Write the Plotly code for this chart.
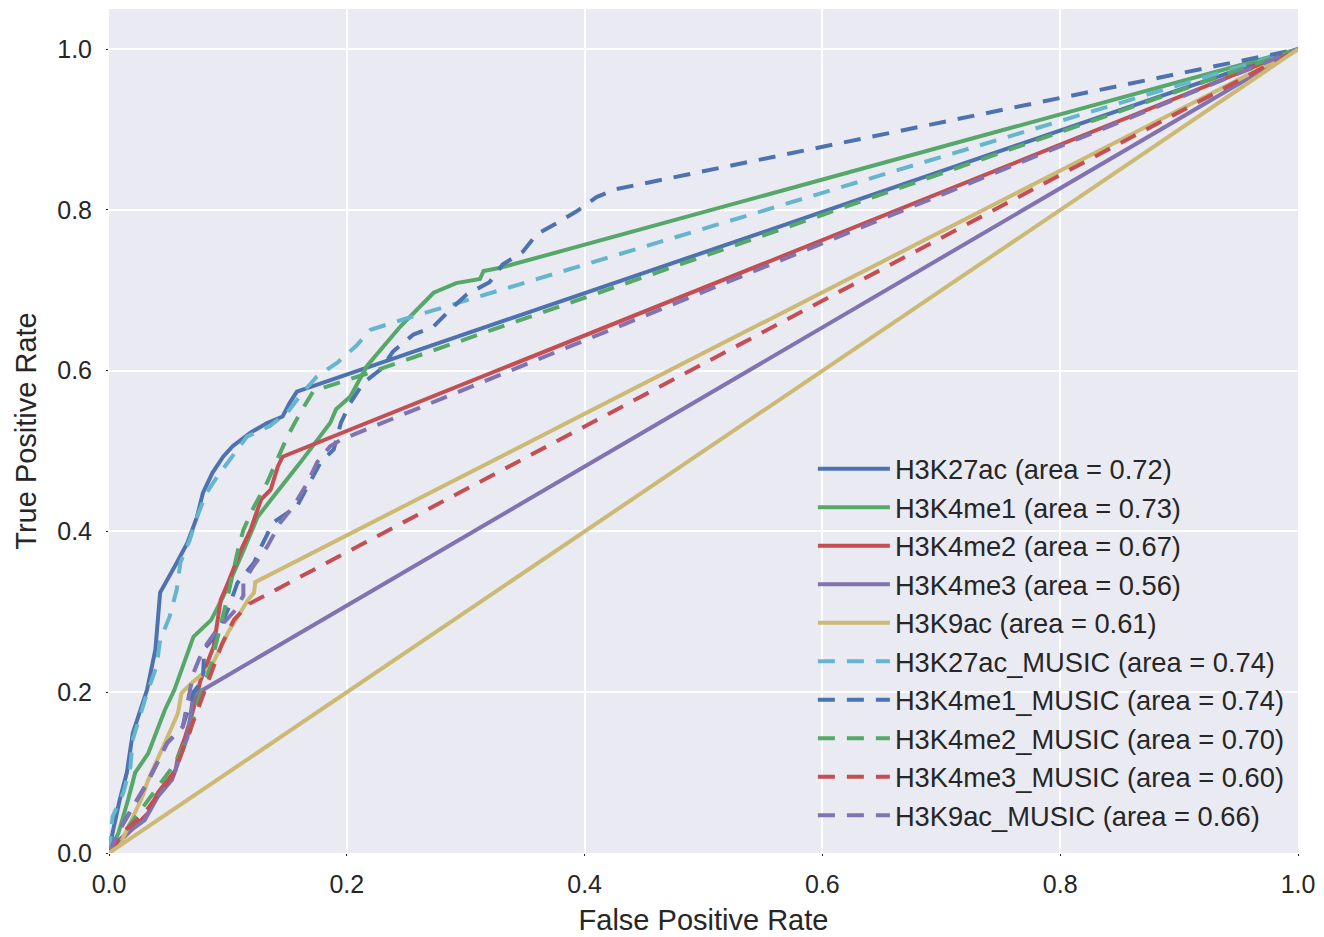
import plotly.graph_objects as go

# ---- data ----
labels = [
    "H3K27ac (area = 0.72)", "H3K4me1 (area = 0.73)", "H3K4me2 (area = 0.67)",
    "H3K4me3 (area = 0.56)", "H3K9ac (area = 0.61)",
    "H3K27ac_MUSIC (area = 0.74)", "H3K4me1_MUSIC (area = 0.74)",
    "H3K4me2_MUSIC (area = 0.70)", "H3K4me3_MUSIC (area = 0.60)",
    "H3K9ac_MUSIC (area = 0.66)",
]

h3k27ac_fpr = [0, 0.003, 0.009, 0.015, 0.02, 0.026, 0.032, 0.039, 0.043, 0.043, 0.057, 0.066, 0.074,
               0.079, 0.087, 0.096, 0.104, 0.119, 0.133, 0.146, 0.152, 0.158, 1]
h3k27ac_tpr = [0, 0.025, 0.066, 0.1, 0.149, 0.178, 0.203, 0.253, 0.315, 0.324, 0.361, 0.386, 0.418,
               0.448, 0.473, 0.493, 0.506, 0.523, 0.535, 0.543, 0.56, 0.574, 1]

h3k4me1_fpr = [0, 0.003, 0.008, 0.016, 0.022, 0.033, 0.041, 0.047, 0.055, 0.063, 0.071, 0.086, 0.096,
               0.111, 0.125, 0.138, 0.161, 0.186, 0.191, 0.203, 0.217, 0.245, 0.273, 0.292, 0.312,
               0.315, 0.329, 1]
h3k4me1_tpr = [0, 0.01, 0.025, 0.066, 0.1, 0.124, 0.153, 0.178, 0.203, 0.235, 0.269, 0.29, 0.319,
               0.369, 0.418, 0.443, 0.486, 0.535, 0.552, 0.568, 0.606, 0.655, 0.697, 0.709, 0.714,
               0.724, 0.728, 1]

h3k4me2_fpr = [0, 0.0075, 0.013, 0.024, 0.033, 0.041, 0.05, 0.056, 0.058, 0.064, 0.07, 0.075, 0.077,
               0.088, 0.094, 0.1, 0.111, 0.119, 0.128, 0.136, 0.142, 0.146, 1]
h3k4me2_tpr = [0, 0.016, 0.02, 0.037, 0.05, 0.075, 0.091, 0.103, 0.12, 0.144, 0.174, 0.203, 0.215,
               0.257, 0.315, 0.336, 0.377, 0.402, 0.44, 0.452, 0.481, 0.493, 1]

h3k4me3_fpr = [0, 0.005, 0.019, 0.03, 0.041, 0.053, 0.058, 0.066, 0.07, 0.072, 1]
h3k4me3_tpr = [0, 0.012, 0.029, 0.041, 0.07, 0.091, 0.112, 0.144, 0.187, 0.197, 1]

h3k9ac_fpr = [0, 0.011, 0.019, 0.028, 0.033, 0.041, 0.047, 0.053, 0.058, 0.061, 0.07, 0.086, 0.1,
              0.117, 0.122, 0.123, 1]
h3k9ac_tpr = [0, 0.016, 0.041, 0.07, 0.091, 0.116, 0.137, 0.157, 0.174, 0.199, 0.212, 0.232, 0.274,
              0.315, 0.324, 0.337, 1]

h3k27ac_music_fpr = [0, 0.003, 0.012, 0.018, 0.02, 0.026, 0.032, 0.04, 0.043, 0.051, 0.057, 0.06,
                     0.068, 0.074, 0.082, 0.091, 0.104, 0.116, 0.135, 0.15, 0.163, 0.175, 0.192,
                     0.208, 0.22, 0.248, 1]
h3k27ac_music_tpr = [0, 0.045, 0.075, 0.107, 0.141, 0.169, 0.199, 0.232, 0.265, 0.294, 0.328, 0.361,
                     0.39, 0.418, 0.448, 0.468, 0.493, 0.518, 0.531, 0.548, 0.573, 0.593, 0.61,
                     0.631, 0.651, 0.664, 1]

h3k4me1_music_fpr = [0, 0.009, 0.02, 0.032, 0.049, 0.062, 0.071, 0.079, 0.08, 0.091, 0.1, 0.108,
                     0.122, 0.128, 0.138, 0.158, 0.167, 0.178, 0.189, 0.195, 0.203, 0.214, 0.228,
                     0.239, 0.256, 0.273, 0.287, 0.301, 0.32, 0.331, 0.348, 0.36, 0.377, 0.393,
                     0.41, 0.427, 1]
h3k4me1_music_tpr = [0, 0.029, 0.057, 0.087, 0.137, 0.157, 0.2, 0.215, 0.253, 0.274, 0.303, 0.336,
                     0.361, 0.381, 0.411, 0.431, 0.456, 0.486, 0.502, 0.535, 0.56, 0.585, 0.601,
                     0.624, 0.645, 0.655, 0.676, 0.695, 0.71, 0.732, 0.748, 0.77, 0.784, 0.798,
                     0.816, 0.826, 1]

h3k4me2_music_fpr = [0, 0.01, 0.025, 0.04, 0.055, 0.068, 0.075, 0.085, 0.092, 0.1, 0.108, 0.113,
                     0.122, 0.133, 0.15, 0.161, 0.172, 0.192, 0.214, 1]
h3k4me2_music_tpr = [0, 0.02, 0.05, 0.08, 0.11, 0.15, 0.19, 0.23, 0.27, 0.32, 0.374, 0.402,
                     0.431, 0.461, 0.518, 0.548, 0.575, 0.585, 0.595, 1]

h3k4me3_music_fpr = [0, 0.015, 0.03, 0.045, 0.055, 0.065, 0.075, 0.085, 0.095, 0.105, 0.118, 1]
h3k4me3_music_tpr = [0, 0.03, 0.05, 0.08, 0.1, 0.14, 0.18, 0.22, 0.26, 0.29, 0.31, 1]

h3k9ac_music_fpr = [0, 0.009, 0.02, 0.032, 0.049, 0.062, 0.071, 0.079, 0.091, 0.105, 0.113, 0.113,
                    0.121, 0.133, 0.144, 0.155, 0.167, 0.175, 0.186, 0.195, 1]
h3k9ac_music_tpr = [0, 0.029, 0.057, 0.087, 0.137, 0.157, 0.224, 0.253, 0.278, 0.3, 0.32, 0.336,
                    0.356, 0.381, 0.411, 0.431, 0.461, 0.486, 0.506, 0.514, 1]

chance_fpr = [0, 1]
chance_tpr = [0, 1]

tick_vals = [0.0, 0.2, 0.4, 0.6, 0.8, 1.0]
tick_text = ["0.0", "0.2", "0.4", "0.6", "0.8", "1.0"]

# ---- styles ----
colors = ["#4C72B0", "#55A868", "#C44E52", "#8172B2", "#CCB974", "#64B5CD"]
DASH = "17px,12px"
series = [
    (h3k27ac_fpr, h3k27ac_tpr, colors[0], "solid"),
    (h3k4me1_fpr, h3k4me1_tpr, colors[1], "solid"),
    (h3k4me2_fpr, h3k4me2_tpr, colors[2], "solid"),
    (h3k4me3_fpr, h3k4me3_tpr, colors[3], "solid"),
    (h3k9ac_fpr, h3k9ac_tpr, colors[4], "solid"),
    (h3k27ac_music_fpr, h3k27ac_music_tpr, colors[5], DASH),
    (h3k4me1_music_fpr, h3k4me1_music_tpr, colors[0], DASH),
    (h3k4me2_music_fpr, h3k4me2_music_tpr, colors[1], DASH),
    (h3k4me3_music_fpr, h3k4me3_music_tpr, colors[2], DASH),
    (h3k9ac_music_fpr, h3k9ac_music_tpr, colors[3], DASH),
]

fig = go.Figure()
for (xs, ys, c, d), lab in zip(series, labels):
    fig.add_trace(go.Scatter(x=xs, y=ys, mode="lines", name=lab,
                             line=dict(color=c, width=4, dash=d)))
fig.add_trace(go.Scatter(x=chance_fpr, y=chance_tpr, mode="lines", showlegend=False,
                         line=dict(color=colors[4], width=4)))

txt = "#262626"
font_family = "Liberation Sans, Arial, sans-serif"
fig.update_layout(
    width=1316, height=929,
    margin=dict(l=101, r=26, t=1, b=84),
    paper_bgcolor="white", plot_bgcolor="#EAEAF2",
    font=dict(family=font_family, color=txt, size=25),
    showlegend=True,
    legend=dict(x=0.592, y=0.484, xanchor="left", yanchor="top",
                bgcolor="rgba(0,0,0,0)", font=dict(size=27.3, color=txt),
                itemwidth=72, tracegroupgap=0),
)
fig.update_xaxes(range=[0, 1], tickvals=tick_vals, ticktext=tick_text,
                 showgrid=True, gridcolor="white", gridwidth=2, zeroline=False,
                 ticks="outside", ticklen=2, tickcolor=txt, showline=False,
                 tickfont=dict(size=25, color=txt), ticklabelstandoff=7,
                 title=dict(text="False Positive Rate", font=dict(size=29, color=txt), standoff=12))
fig.update_yaxes(range=[0, 1.05], tickvals=tick_vals, ticktext=tick_text,
                 showgrid=True, gridcolor="white", gridwidth=2, zeroline=False,
                 ticks="outside", ticklen=2, tickcolor=txt, showline=False,
                 tickfont=dict(size=25, color=txt), ticklabelstandoff=9,
                 title=dict(text="True Positive Rate", font=dict(size=29, color=txt), standoff=12))

fig.write_html("out.html")
